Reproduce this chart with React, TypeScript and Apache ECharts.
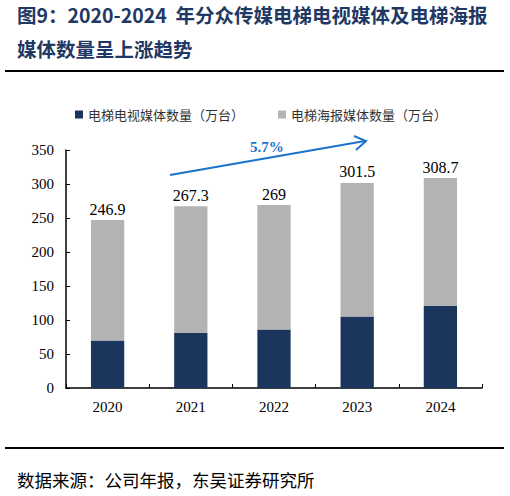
import React, { useEffect, useRef } from "react";
import * as echarts from "echarts";

const years = ["2020", "2021", "2022", "2023", "2024"];
const tvCounts = [70, 81, 86, 105, 121];
const posterCounts = [176.9, 186.3, 183, 196.5, 187.7];
const totals = [246.9, 267.3, 269, 301.5, 308.7];
const yTicks = [0, 50, 100, 150, 200, 250, 300, 350];

const NAVY = "#1b365d";
const GRAY = "#b3b3b3";
const TITLE = "#1f3864";
const SERIF = "'Liberation Serif', 'Times New Roman', serif";
const CJK = "'Noto Sans CJK SC', sans-serif";

export default function App() {
  const ref = useRef<HTMLDivElement>(null);
  useEffect(() => {
    if (!ref.current) return;
    const chart = echarts.init(ref.current, undefined, { renderer: "svg" });
    chart.setOption({
      animation: false,
      backgroundColor: "#ffffff",
      legend: {
        top: 103,
        left: 70,
        itemWidth: 8,
        itemHeight: 8,
        itemGap: 34,
        icon: "rect",
        textStyle: { fontFamily: CJK, fontSize: 13, color: "#333333" },
        data: ["电梯电视媒体数量（万台）", "电梯海报媒体数量（万台）"],
      },
      grid: { left: 66, right: 28, top: 150, bottom: 108, containLabel: false },
      xAxis: {
        type: "category",
        data: years,
        axisLine: { lineStyle: { color: "#000", width: 1.5 } },
        axisTick: { show: true, inside: true, length: 4, lineStyle: { color: "#000" } },
        axisLabel: { fontFamily: SERIF, fontSize: 15, color: "#000", margin: 11 },
      },
      yAxis: {
        type: "value",
        min: yTicks[0],
        max: yTicks[yTicks.length - 1],
        interval: 50,
        splitLine: { show: false },
        axisLine: { show: true, lineStyle: { color: "#000", width: 1.5 } },
        axisTick: { show: true, inside: true, length: 4, lineStyle: { color: "#000" } },
        axisLabel: { fontFamily: SERIF, fontSize: 15, color: "#000", margin: 12 },
      },
      series: [
        {
          name: "电梯电视媒体数量（万台）",
          type: "bar",
          stack: "total",
          barWidth: "40%",
          data: tvCounts,
          itemStyle: { color: NAVY },
        },
        {
          name: "电梯海报媒体数量（万台）",
          type: "bar",
          stack: "total",
          barWidth: "40%",
          data: posterCounts,
          itemStyle: { color: GRAY },
          label: {
            show: true,
            position: "top",
            distance: 3,
            fontFamily: SERIF,
            fontSize: 16,
            color: "#000",
            formatter: (p: any) => String(totals[p.dataIndex]),
          },
        },
      ],
      graphic: [
        {
          type: "text",
          left: 17,
          top: 5,
          style: {
            text: "图9：2020-2024  年分众传媒电梯电视媒体及电梯海报",
            fontFamily: CJK,
            fontWeight: "bold",
            fontSize: 19.5,
            fill: TITLE,
          },
        },
        {
          type: "text",
          left: 17,
          top: 39,
          style: {
            text: "媒体数量呈上涨趋势",
            fontFamily: CJK,
            fontWeight: "bold",
            fontSize: 19.5,
            fill: TITLE,
          },
        },
        {
          type: "line",
          shape: { x1: 5, y1: 71, x2: 504, y2: 71 },
          style: { stroke: "#000", lineWidth: 2 },
        },
        {
          type: "line",
          shape: { x1: 5, y1: 448, x2: 504, y2: 448 },
          style: { stroke: "#000", lineWidth: 2 },
        },
        {
          type: "text",
          left: 17,
          top: 471,
          style: {
            text: "数据来源：公司年报，东吴证券研究所",
            fontFamily: CJK,
            fontSize: 17.5,
            fill: "#000",
          },
        },
        {
          type: "line",
          shape: { x1: 170, y1: 175, x2: 365, y2: 141 },
          style: { stroke: "#1a74cc", lineWidth: 2 },
        },
        {
          type: "polyline",
          shape: { points: [[354, 136], [366, 141], [356, 150]] },
          style: { stroke: "#1a74cc", lineWidth: 2, fill: "none" },
        },
        {
          type: "text",
          x: 250,
          y: 139,
          style: {
            text: "5.7%",
            fontFamily: SERIF,
            fontWeight: "bold",
            fontSize: 15,
            fill: "#1a74cc",
          },
        },
      ],
    });
    return () => chart.dispose();
  }, []);
  return (
    <div
      ref={ref}
      style={{ position: "absolute", left: 0, top: 0, width: 510, height: 496 }}
    />
  );
}
